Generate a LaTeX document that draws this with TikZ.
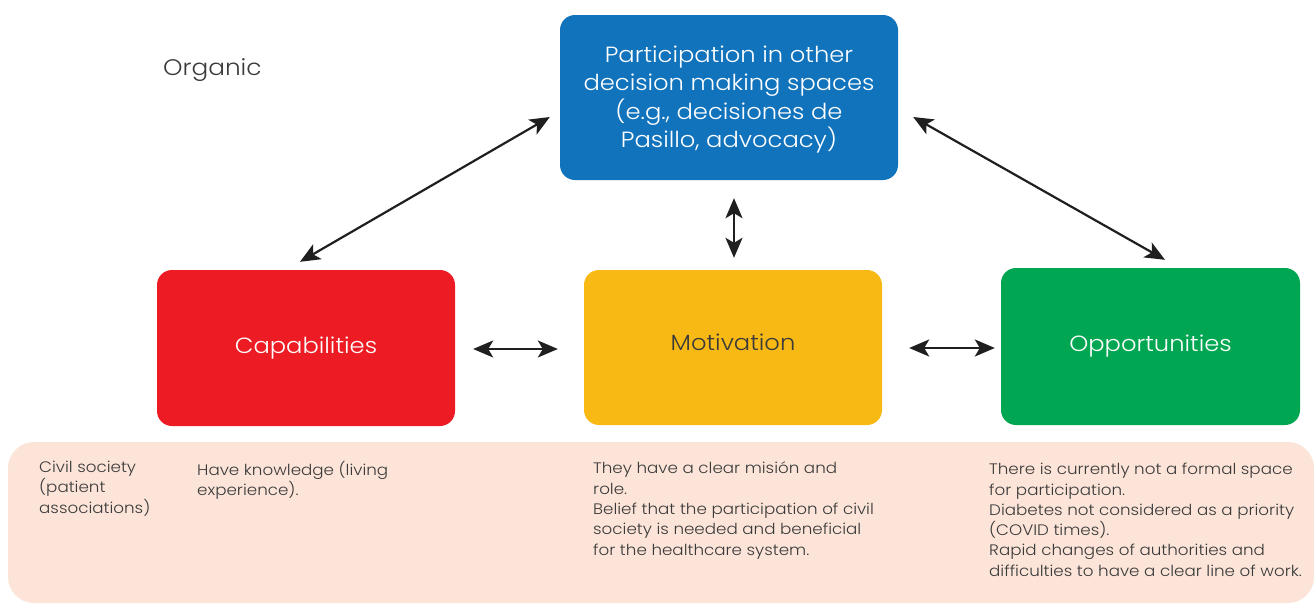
\documentclass[tikz,border=0pt]{standalone}
\usepackage{fontspec}
\setmainfont{Poppins}[UprightFont=* Light, FakeStretch=1.1]
\usetikzlibrary{arrows.meta}
\definecolor{cblue}{HTML}{1273BD}
\definecolor{cred}{HTML}{ED1C24}
\definecolor{cyel}{HTML}{F9B914}
\definecolor{cgrn}{HTML}{00A651}
\definecolor{cpeach}{HTML}{FCE4D8}
\definecolor{ctext}{HTML}{3A3A3A}
\begin{document}
\begin{tikzpicture}[x=1pt,y=-1pt,
  box/.style={rounded corners=15pt, minimum width=#1, inner sep=0pt, align=center, font=\fontsize{22}{28.5}\selectfont},
  boxtext/.style={inner sep=0pt, align=center, font=\fontsize{22}{28.5}\selectfont},
  note/.style={anchor=north west, inner sep=0pt, align=left, text=ctext, font=\fontsize{15.2}{20.3}\selectfont},
  dbl/.style={{Stealth[length=20pt,width=17pt,inset=5pt]}-{Stealth[length=20pt,width=17pt,inset=5pt]}, line width=2.2pt, draw=black!88}]
\useasboundingbox (0,0) rectangle (1314,603);
% band of notes along the bottom
\fill[cpeach, rounded corners=26pt] (8,442) rectangle (1314,603);
% main boxes
\node[box=338pt, fill=cblue, minimum height=165pt] (blue) at (729,97.5) {};
\node[boxtext, text=white] (bluet) at (729,99.5)
  {Participation in other\\decision making spaces\\(e.g., decisiones de\\Pasillo, advocacy)};
\node[box=298pt, fill=cred, text=white, minimum height=156pt] (cap) at (306,348) {Capabilities};
\node[box=298pt, fill=cyel, text=ctext, minimum height=155pt] (mot) at (733,347.5) {\raisebox{10pt}{Motivation}};
\node[box=299pt, fill=cgrn, text=white, minimum height=157pt] (grn) at (1150.5,346.5) {Opportunities};
% label
\node[anchor=west, inner sep=0pt, text=ctext, font=\fontsize{22.5}{25}\selectfont] (org) at (163,70) {Organic};
% notes
\node[note] (n1) at (39,461) {Civil society\\(patient\\associations)};
\node[note] (n2) at (197,461) {Have knowledge (living\\experience).};
\node[note] (n3) at (593,462) {They have a clear misión and\\role.\\Belief that the participation of civil\\society is needed and beneficial\\for the healthcare system.};
\node[note] (n4) at (989,463) {There is currently not a formal space\\for participation.\\Diabetes not considered as a priority\\(COVID times).\\Rapid changes of authorities and\\difficulties to have a clear line of work.};
% connectors
\draw[dbl] ([shift={(-10,19.5)}]blue.west) -- ([shift={(-6,-8)}]cap.north);
\draw[dbl] ([shift={(15,19.5)}]blue.east) -- ([shift={(14.5,-8)}]grn.north);
\draw[dbl] ([shift={(5,18)}]blue.south) -- ([shift={(1,-12)}]mot.north);
\draw[dbl] ([shift={(18,1)}]cap.east) -- ([shift={(-26,1.5)}]mot.west);
\draw[dbl] ([shift={(27,0.5)}]mot.east) -- ([shift={(-6,1.5)}]grn.west);
\end{tikzpicture}
\end{document}
